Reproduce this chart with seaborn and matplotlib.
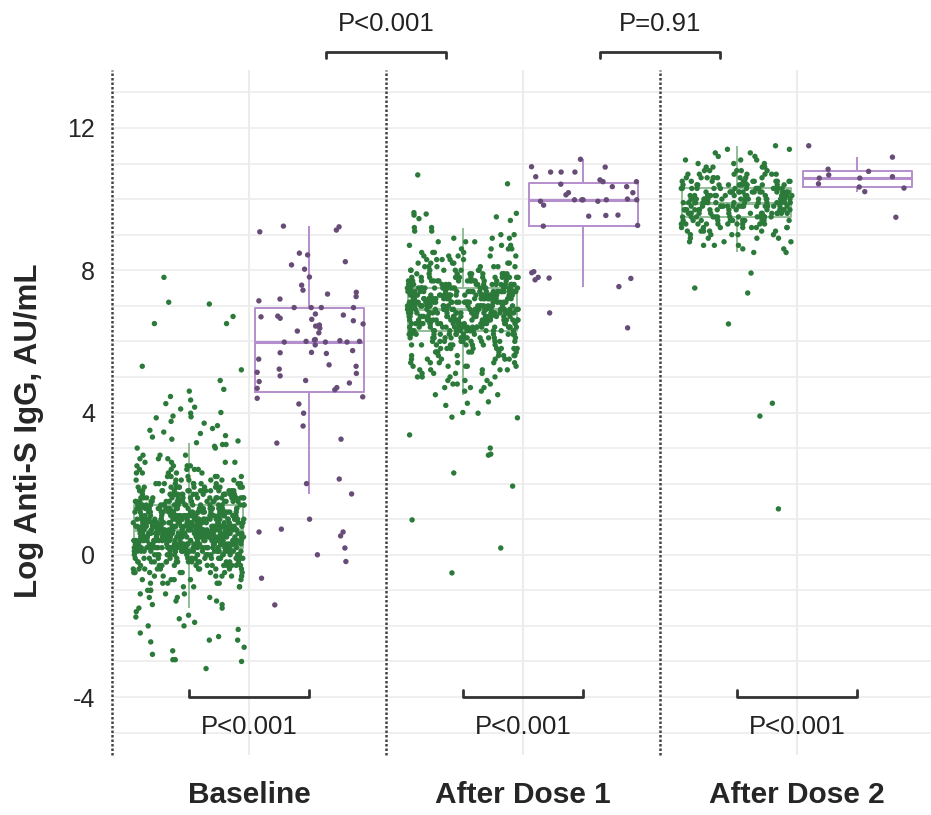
import numpy as np
import pandas as pd
import matplotlib
matplotlib.use("Agg")
import matplotlib.pyplot as plt
import seaborn as sns

# time points and the two infection groups
times = ["Baseline", "After Dose 1", "After Dose 2"]
groups = ["No prior infection", "Prior infection"]

# no prior infection (green): number of points per 0.1 step of log titer,
# starting at *_start, plus the scattered points outside that band
bl_no_start = -1.5
bl_no_counts = [2, 2, 2, 3, 3, 3, 4, 5, 5, 6, 8, 10, 12, 15, 18,
                21, 26, 32, 34, 35, 36, 36, 36, 35, 34, 33, 30,
                25, 22, 20, 19, 18, 17, 15, 13, 10,
                7, 6, 5, 5, 4, 4, 3, 3]
bl_no_extra = [7.8, 7.1, 7.05, 6.7, 6.5, 6.5, 5.3, 5.2, 4.9, 4.65, 4.6, 4.45,
               4.35, 4.25, 4.15, 4.1, 4.0, 3.98, 3.9, 3.88, 3.85, 3.75, 3.7,
               3.63, 3.55, 3.5, 3.45, 3.41, 3.35, 3.31, 3.25, 3.2, 3.15, 3.1,
               3.1, 3.05, 3.0, 3.0,
               -1.6, -1.7, -1.75, -1.8, -1.9, -2.0, -2.0, -2.1, -2.2, -2.3,
               -2.4, -2.4, -2.45, -2.6, -2.7, -2.8, -2.95, -2.95, -3.0, -3.2]

d1_no_start = 4.5
d1_no_counts = [2, 2, 3, 3, 3, 4, 4, 5, 5, 6, 6, 7, 7, 8, 9,
                10, 12, 14, 17, 19, 21, 22, 23, 24, 25,
                26, 26, 26, 25, 24, 22, 19, 16, 13, 10,
                8, 7, 6, 5, 5, 4, 4, 3, 3, 3, 2, 2, 2]
d1_no_extra = [10.68, 10.43, 9.62, 9.6, 9.58, 9.55, 9.5, 9.45, 9.4,
               4.3, 4.26, 4.2, 4.0, 3.98, 3.87, 3.85, 3.37, 3.0, 2.83, 2.8,
               2.3, 1.93, 0.98, 0.19, -0.51]

d2_no_start = 8.5
d2_no_counts = [2, 2, 3, 3, 4, 5, 6, 8, 10, 12,
                14, 15, 16, 17, 18, 18, 17, 16, 15, 13,
                11, 9, 7, 5, 4, 3, 3, 2, 2, 2]
d2_no_extra = [11.5, 7.92, 7.5, 7.36, 6.49, 4.26, 3.9, 1.29]

# prior infection (purple): single points
bl_prior = [9.24, 9.08, 9.22, 9.13, 8.48, 8.43, 8.24, 8.15, 8.03, 7.81, 7.58,
            7.19, 7.26, 7.14, 7.33, 7.38, 7.44, 6.95, 6.95, 6.95, 6.95, 6.58,
            6.71, 6.43, 6.62, 6.74, 6.77, 6.69, 6.49, 6.29, 6.46, 6.24, 6.37,
            6.65, 6.05, 6.0, 5.98, 6.0, 6.02, 5.98, 5.98, 6.04, 5.68, 5.66,
            5.74, 5.9, 5.69, 5.5, 5.1, 5.3, 5.22, 5.13, 5.34, 5.03, 4.9, 4.83,
            4.87, 4.7, 4.68, 4.64, 4.44, 4.24, 4.4, 3.98, 3.62, 3.25, 3.14,
            2.13, 2.0, 1.71, 1.0, 0.53, 0.72, 0.64, 0.64, 0.19, 0.0, -0.19,
            -0.66, -1.41]
d1_prior = [11.12, 10.91, 10.9, 10.76, 10.76, 10.76, 10.63, 10.54, 10.49,
            10.49, 10.42, 10.35, 10.35, 10.18, 10.18, 10.12, 10.0, 9.98, 9.98,
            9.98, 9.98, 9.98, 9.94, 9.94, 9.83, 9.55, 9.54, 9.52, 9.26, 9.24,
            7.96, 7.93, 7.8, 7.78, 7.77, 7.73, 7.54, 6.8, 6.38]
d2_prior = [11.5, 11.18, 10.84, 10.78, 10.68, 10.63, 10.59, 10.59, 10.43,
            10.34, 10.31, 10.21, 9.49]

p_within = ["P<0.001", "P<0.001", "P<0.001"]
p_between = ["P<0.001", "P=0.91"]


def from_counts(start, counts):
    levels = np.round(start + 0.1 * np.arange(len(counts)), 1)
    return np.repeat(levels, counts)


no_vals = [np.concatenate([from_counts(bl_no_start, bl_no_counts), bl_no_extra]),
           np.concatenate([from_counts(d1_no_start, d1_no_counts), d1_no_extra]),
           np.concatenate([from_counts(d2_no_start, d2_no_counts), d2_no_extra])]
prior_vals = [bl_prior, d1_prior, d2_prior]

offset = 0.22
rows = []
for i in range(len(times)):
    for v in no_vals[i]:
        rows.append((i - offset, v, groups[0]))
    for v in prior_vals[i]:
        rows.append((i + offset, v, groups[1]))
df = pd.DataFrame(rows, columns=["pos", "titer", "group"])

sns.set_style("white")
plt.rcParams["font.family"] = ["Liberation Sans", "DejaVu Sans"]
plt.rcParams["axes.unicode_minus"] = False

fig = plt.figure(figsize=(9.31, 8.15), dpi=100)
ax = fig.add_axes([112 / 931, 60 / 815, 822 / 931, 685 / 815])

box_pal = {groups[0]: "#93bd98", groups[1]: "#b48ecd"}
pt_pal = {groups[0]: "#2b7a3a", groups[1]: "#684c78"}

sns.boxplot(data=df, x="pos", y="titer", hue="group", native_scale=True,
            width=0.9, fill=False, palette=box_pal, linewidth=1.4,
            showcaps=False, showfliers=False, medianprops={"linewidth": 2.2},
            legend=False, ax=ax)
sns.stripplot(data=df, x="pos", y="titer", hue="group", native_scale=True,
              jitter=0.46, size=3.9, palette=pt_pal, linewidth=0,
              legend=False, zorder=3, ax=ax)

ax.set_xlim(-0.5, 2.5)
ax.set_ylim(-5.63, 13.63)
ax.set_yticks([-4, 0, 4, 8, 12])
ax.set_yticks(range(-5, 14), minor=True)
ax.set_xticks([0, 1, 2])
ax.set_xticklabels(times, fontsize=21.5, fontweight="bold")
ax.grid(axis="y", which="both", color="#ececec", lw=1.2)
ax.grid(axis="x", color="#ececec", lw=1.5)
ax.set_axisbelow(True)
for s in ax.spines.values():
    s.set_visible(False)
for xb in [-0.5, 0.5, 1.5]:
    ax.axvline(xb, color="#444444", ls=(0, (1, 0.8)), lw=1.8, zorder=2.5,
               clip_on=False)

ax.tick_params(axis="y", which="both", length=0, pad=12, labelsize=18)
ax.tick_params(axis="x", length=0, pad=19)
ax.set_xlabel("")
ax.set_ylabel("Log Anti-S IgG, AU/mL", fontsize=22.5, fontweight="bold")
ax.yaxis.set_label_coords(-0.083, 0.474)

# brackets: prior vs no prior within each time point
for i, p in enumerate(p_within):
    x0, x1 = i - offset, i + offset
    ax.plot([x0, x0, x1, x1], [-3.8, -4, -4, -3.8], color="#333333", lw=2)
    ax.text(i, -4.84, p, ha="center", va="center", fontsize=18.5, color="#222222")

# brackets between time points, above the panel
for j, p in enumerate(p_between):
    xc = j + 0.5
    ax.plot([xc - offset, xc - offset, xc + offset, xc + offset],
            [13.97, 14.14, 14.14, 13.97], color="#333333", lw=2, clip_on=False)
    ax.text(xc, 14.92, p, ha="center", va="center", fontsize=18.5,
            color="#222222", clip_on=False)

fig.savefig("out.png", dpi=100)
